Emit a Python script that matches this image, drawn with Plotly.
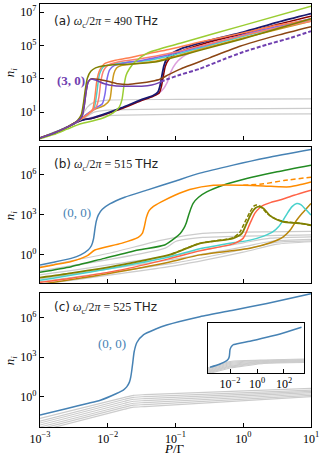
import plotly.graph_objects as go

# ---------------- data (log10 P/Gamma, log10 n_i) ----------------

# panel (a): omega_c/2pi = 490 THz
a_purple_lx = [-3, -2.8, -2.6, -2.45, -2.38, -2.35, -2.32, -2.29, -2.25, -2.18, -2.05, -1.9, -1.7, -1.5, -1.35, -1.25, -1.18]
a_purple_ly = [-0.55, -0.27, 0.1, 0.45, 0.75, 1.3, 2.2, 2.8, 2.98, 2.92, 2.7, 2.58, 2.55, 2.55, 2.62, 2.75, 2.9]
a_purple_dash_lx = [-1.22, -1.1, -0.93, -0.64, -0.3, 0, 0.35, 0.7, 1.0]
a_purple_dash_ly = [2.82, 3.0, 3.24, 3.6, 4.15, 4.6, 5.05, 5.45, 5.85]
a_brown_lx = [-3, -2.8, -2.6, -2.45, -2.38, -2.35, -2.32, -2.29, -2.24, -2.15, -2.0, -1.85, -1.7, -1.52, -1.35, -1.23, -1.1, -0.93, -0.5, -0.05, 0.5, 1.0]
a_brown_ly = [-0.55, -0.27, 0.1, 0.45, 0.75, 1.3, 2.2, 2.8, 3.0, 2.97, 2.85, 2.7, 2.66, 2.74, 2.85, 2.97, 3.25, 3.58, 4.25, 4.95, 5.6, 6.12]
a_olive_lx = [-3, -2.8, -2.6, -2.45, -2.39, -2.36, -2.33, -2.3, -2.25, -2.18, -2.05, -1.85, -1.6, -1.3, -1.1, -0.64, 0, 0.5, 1.0]
a_olive_ly = [-0.55, -0.27, 0.1, 0.48, 0.85, 1.5, 2.4, 3.05, 3.45, 3.65, 3.78, 3.85, 3.9, 4.0, 4.2, 4.7, 5.4, 6.0, 6.6]
a_coral_lx = [-3, -2.8, -2.6, -2.45, -2.35, -2.27, -2.22, -2.19, -2.16, -2.12, -2.05, -1.9, -1.7, -1.41, -1.1, -0.64, 0, 0.5, 1.0]
a_coral_ly = [-0.55, -0.27, 0.1, 0.45, 0.7, 0.95, 1.2, 1.9, 2.9, 3.5, 3.9, 4.1, 4.24, 4.5, 4.75, 5.2, 5.75, 6.2, 6.55]
a_salmon_lx = [-3, -2.8, -2.6, -2.45, -2.35, -2.25, -2.17, -2.13, -2.1, -2.06, -2.0, -1.85, -1.6, -1.3, -1.0, -0.5, 0, 0.5, 1.0]
a_salmon_ly = [-0.55, -0.27, 0.1, 0.45, 0.7, 1.0, 1.3, 1.9, 2.9, 3.5, 3.8, 4.0, 4.15, 4.35, 4.6, 5.1, 5.6, 6.05, 6.45]
a_turq_lx = [-3, -2.6, -2.4, -2.28, -2.2, -2.16, -2.12, -2.05, -1.8, -1.4, -1.0, -0.5, 0, 0.5, 1.0]
a_turq_ly = [-0.55, 0.1, 0.55, 0.9, 1.25, 2.2, 3.3, 3.75, 3.95, 4.1, 4.45, 5.0, 5.55, 6.05, 6.5]
a_slate_lx = [-3, -2.8, -2.6, -2.45, -2.35, -2.2, -2.08, -2.04, -2.01, -1.97, -1.9, -1.75, -1.5, -1.2, -0.8, -0.3, 0.3, 1.0]
a_slate_ly = [-0.55, -0.27, 0.1, 0.45, 0.75, 1.2, 1.5, 2.1, 3.0, 3.55, 3.8, 3.95, 4.1, 4.35, 4.75, 5.3, 5.95, 6.6]
a_gold_lx = [-3, -2.8, -2.6, -2.45, -2.35, -2.2, -2.05, -1.97, -1.94, -1.91, -1.87, -1.8, -1.6, -1.3, -1.0, -0.5, 0, 0.5, 1.0]
a_gold_ly = [-0.55, -0.27, 0.1, 0.45, 0.75, 1.15, 1.4, 1.75, 2.6, 3.3, 3.65, 3.8, 3.9, 4.05, 4.35, 4.9, 5.45, 5.95, 6.45]
a_ygreen_lx = [-3, -2.8, -2.6, -2.4, -2.2, -2.05, -1.92, -1.83, -1.79, -1.76, -1.73, -1.68, -1.6, -1.41, -0.93, 0, 1.0]
a_ygreen_ly = [-0.6, -0.35, -0.02, 0.3, 0.5, 0.68, 0.95, 1.3, 1.75, 2.6, 3.2, 3.6, 4.0, 4.55, 5.13, 6.2, 7.35]
a_navy_lx = [-3, -2.8, -2.6, -2.45, -2.35, -2.24, -2.0, -1.8, -1.52, -1.33, -1.26, -1.23, -1.2, -1.17, -1.13, -1.08, -0.93, -0.5, 0, 0.5, 1.0]
a_navy_ly = [-0.55, -0.27, 0.1, 0.42, 0.55, 0.63, 0.95, 1.25, 1.72, 2.0, 2.2, 2.55, 3.2, 3.8, 4.2, 4.45, 4.78, 5.3, 5.8, 6.38, 6.9]
a_dred_lx = [-3, -2.8, -2.6, -2.45, -2.35, -2.24, -2.0, -1.8, -1.52, -1.33, -1.24, -1.21, -1.18, -1.15, -1.1, -1.0, -0.5, 0, 0.5, 1.0]
a_dred_ly = [-0.55, -0.27, 0.1, 0.42, 0.55, 0.62, 0.92, 1.2, 1.66, 1.95, 2.15, 2.5, 3.15, 3.75, 4.15, 4.5, 5.2, 5.7, 6.25, 6.75]
a_plum_lx = [-3, -2.6, -2.35, -2.0, -1.52, -1.33, -1.2, -1.12, -1.07, -1.0, -0.9, -0.7, -0.3, 0.2, 0.6, 1.0]
a_plum_ly = [-0.55, 0.1, 0.55, 0.92, 1.68, 1.98, 2.3, 2.8, 3.4, 3.9, 4.3, 4.7, 5.25, 5.8, 6.15, 6.5]
a_gray_lx = [[-3, -2.8, -2.6, -2.45, -2.38, -2.3, -2.2, -2.0, -1.0, 1.0],
             [-3, -2.6, -2.4, -2.3, -2.2, -2.0, -1.0, 1.0],
             [-3, -2.6, -2.4, -2.3, -2.1, -1.8, -1.0, 1.0]]
a_gray_ly = [[-0.55, -0.27, 0.1, 0.45, 0.8, 1.3, 1.6, 1.72, 1.76, 1.8],
             [-0.55, 0.1, 0.5, 0.75, 1.0, 1.12, 1.18, 1.22],
             [-0.55, 0.1, 0.48, 0.6, 0.75, 0.82, 0.87, 0.9]]

# panel (b): omega_c/2pi = 515 THz
b_blue_lx = [-3, -2.8, -2.54, -2.4, -2.29, -2.24, -2.21, -2.19, -2.17, -2.14, -2.08, -1.97, -1.75, -1.41, -1.01, -0.64, -0.15, 0.35, 1.0]
b_blue_ly = [-0.75, -0.55, -0.26, 0.0, 0.36, 0.7, 1.2, 1.9, 2.5, 2.97, 3.4, 3.8, 4.3, 4.85, 5.5, 6.1, 6.7, 7.25, 7.86]
b_orange_lx = [-3, -2.8, -2.54, -2.3, -2.19, -1.8, -1.55, -1.49, -1.46, -1.43, -1.39, -1.33, -1.21, -1.01, -0.79, -0.44, 0, 0.3, 0.54, 0.69, 0.85, 1.0]
b_orange_ly = [-0.95, -0.75, -0.5, -0.05, 0.36, 0.86, 1.31, 1.6, 2.1, 2.8, 3.3, 3.6, 3.95, 4.45, 4.88, 5.2, 5.2, 5.15, 5.08, 5.08, 5.25, 5.45]
b_orange_dash_lx = [0.0, 0.3, 0.6, 1.0]
b_orange_dash_ly = [5.2, 5.3, 5.55, 5.8]
b_green_lx = [-3, -2.54, -2.05, -1.55, -1.16, -1.01, -0.93, -0.88, -0.84, -0.81, -0.77, -0.74, -0.66, -0.54, -0.3, 0.05, 0.5, 1.0]
b_green_ly = [-1.3, -0.88, -0.26, 0.36, 0.74, 1.25, 1.6, 1.95, 2.4, 2.9, 3.5, 3.85, 4.3, 4.7, 5.2, 5.7, 6.2, 6.69]
b_olive_lx = [-3, -2.54, -1.8, -1.06, -0.64, -0.15, -0.02, 0.05, 0.12, 0.18, 0.23, 0.3, 0.39, 0.5, 0.59, 0.84, 1.0]
b_olive_ly = [-1.7, -1.37, -0.75, 0.05, 0.86, 1.23, 1.6, 2.35, 3.1, 3.5, 3.6, 3.47, 2.95, 2.62, 2.47, 2.35, 2.22]
b_olive_dash_lx = [-1.06, -0.64, -0.15, -0.05, 0.02, 0.1, 0.16, 0.2, 0.26, 0.35, 0.45, 0.6, 0.84, 1.0]
b_olive_dash_ly = [0.05, 0.86, 1.28, 1.7, 2.4, 3.2, 3.65, 3.72, 3.6, 3.1, 2.75, 2.5, 2.35, 2.2]
b_tomato_lx = [-3, -2.54, -1.8, -1.1, -0.64, -0.15, 0.0, 0.1, 0.17, 0.24, 0.3, 0.4, 0.54, 0.75, 1.0]
b_tomato_ly = [-2.05, -1.74, -1.12, -0.3, 0.3, 0.82, 1.25, 2.35, 3.1, 3.5, 3.71, 3.9, 4.09, 4.45, 4.83]
b_turq_lx = [-3, -2.0, -1.13, -0.64, -0.15, 0.1, 0.3, 0.44, 0.52, 0.59, 0.65, 0.72, 0.79, 0.85, 0.92, 1.0]
b_turq_ly = [-1.9, -1.05, -0.2, 0.45, 0.9, 1.1, 1.4, 1.73, 2.1, 2.6, 3.1, 3.6, 3.84, 3.75, 3.4, 2.97]
b_gold_lx = [-3, -2.0, -1.1, -0.64, 0.1, 0.4, 0.59, 0.7, 0.79, 0.87, 0.94, 1.0]
b_gold_ly = [-2.2, -1.4, -0.55, 0.0, 0.49, 0.9, 1.35, 1.9, 2.6, 3.1, 3.5, 3.84]
b_gray_lx = [[-3, -2.0, -1.2, -0.6, 1.0],
             [-3, -1.15, -1.0, -0.6, 1.0],
             [-3, -1.0, 0.0, 0.4, 1.0],
             [-3, -1.0, 0.0, 0.4, 1.0],
             [-3, -1.0, 0.0, 0.5, 1.0],
             [-3, -1.0, 0.0, 0.5, 1.0]]
b_gray_ly = [[-0.9, 0.1, 1.1, 1.6, 1.75],
             [-1.2, 0.5, 1.0, 1.3, 1.5],
             [-1.5, 0.0, 0.9, 1.25, 1.35],
             [-1.8, -0.3, 0.6, 1.0, 1.15],
             [-2.0, -0.6, 0.4, 0.95, 1.05],
             [-2.2, -0.8, 0.2, 0.8, 0.98]]

# panel (c): omega_c/2pi = 525 THz
c_blue_lx = [-3, -2.6, -2.3, -2.11, -1.87, -1.77, -1.72, -1.68, -1.66, -1.645, -1.63, -1.61, -1.57, -1.47, -1.3, -1.13, -0.64, -0.15, 0.35, 1.0]
c_blue_ly = [-1.4, -0.9, -0.52, -0.27, 0.24, 0.5, 0.74, 1.1, 1.5, 2.0, 2.6, 3.4, 4.1, 4.7, 5.1, 5.42, 6.05, 6.55, 7.06, 7.8]
c_gray_lx = [-3, -1.75, -1.62, -1.45, 1.0]
c_gray_ly = [[-1.65, -0.05, 0.1, 0.15, 0.62],
             [-1.85, -0.2, -0.05, 0.0, 0.5],
             [-2.0, -0.35, -0.2, -0.15, 0.4],
             [-2.15, -0.5, -0.35, -0.3, 0.3],
             [-2.3, -0.65, -0.5, -0.45, 0.2],
             [-2.45, -0.8, -0.65, -0.6, 0.1],
             [-2.6, -0.95, -0.8, -0.75, 0.0]]

# inset of (c)
i_blue_lx = [-3.48, -2.74, -2.24, -2.12, -2.05, -2.0, -1.94, -1.88, -1.75, -1.2, -0.52, 0.72, 1.95, 3.3]
i_blue_ly = [-1.36, -0.7, -0.04, 0.3, 0.84, 2.16, 2.6, 2.84, 3.16, 3.5, 3.83, 4.63, 5.5, 6.63]
i_gray_lx = [-3.63, -2.2, -2.0, -1.7, 0.5, 3.48]
i_gray_ly = [[-1.5, -0.35, -0.2, -0.1, 0.1, 0.3],
             [-1.7, -0.55, -0.4, -0.3, 0.0, 0.2],
             [-1.9, -0.75, -0.6, -0.5, -0.1, 0.1],
             [-2.05, -0.95, -0.8, -0.7, -0.2, 0.0],
             [-2.2, -1.15, -1.0, -0.9, -0.3, -0.1],
             [-2.35, -1.3, -1.15, -1.05, -0.4, -0.2],
             [-2.5, -1.45, -1.3, -1.2, -0.5, -0.3],
             [-2.65, -1.65, -1.5, -1.4, -0.6, -0.4]]

GRAY = "#cccccc"
SERIF = "Liberation Serif"
SANS = "DejaVu Sans"

fig = go.Figure()


def L(v):
    return [10 ** t for t in v]


def add(lx, ly, color, xa, ya, width=1.5, dash=None, shape="spline"):
    fig.add_trace(go.Scatter(
        x=L(lx), y=L(ly), mode="lines", xaxis=xa, yaxis=ya,
        line=dict(color=color, width=width, dash=dash, shape=shape, smoothing=0.6),
        showlegend=False, hoverinfo="skip"))


# panel (a)
for lx, ly in zip(a_gray_lx, a_gray_ly):
    add(lx, ly, GRAY, "x", "y", 1.2)
add(a_plum_lx, a_plum_ly, "#dda0dd", "x", "y")
add(a_dred_lx, a_dred_ly, "#8b0000", "x", "y")
add(a_navy_lx, a_navy_ly, "#191970", "x", "y", 1.8)
add(a_turq_lx, a_turq_ly, "#48d1cc", "x", "y")
add(a_gold_lx, a_gold_ly, "#cc9a1e", "x", "y")
add(a_slate_lx, a_slate_ly, "#7b68ee", "x", "y")
add(a_salmon_lx, a_salmon_ly, "#fa8072", "x", "y")
add(a_coral_lx, a_coral_ly, "#ff7f50", "x", "y")
add(a_ygreen_lx, a_ygreen_ly, "#9acd32", "x", "y")
add(a_brown_lx, a_brown_ly, "#8b4513", "x", "y")
add(a_olive_lx, a_olive_ly, "#808000", "x", "y")
add(a_purple_lx, a_purple_ly, "#7040b0", "x", "y")
add(a_purple_dash_lx, a_purple_dash_ly, "#7040b0", "x", "y", 2, "4px,2px")

# panel (b)
for lx, ly in zip(b_gray_lx, b_gray_ly):
    add(lx, ly, GRAY, "x2", "y2", 1.2)
add(b_gold_lx, b_gold_ly, "#b8860b", "x2", "y2")
add(b_turq_lx, b_turq_ly, "#48d1cc", "x2", "y2")
add(b_tomato_lx, b_tomato_ly, "#ff6347", "x2", "y2")
add(b_olive_lx, b_olive_ly, "#808000", "x2", "y2", 1.8)
add(b_olive_dash_lx, b_olive_dash_ly, "#808000", "x2", "y2", 1.5, "4px,2px")
add(b_green_lx, b_green_ly, "#228b22", "x2", "y2")
add(b_orange_lx, b_orange_ly, "#ff8c00", "x2", "y2")
add(b_orange_dash_lx, b_orange_dash_ly, "#ff8c00", "x2", "y2", 1.5, "5px,3px")
add(b_blue_lx, b_blue_ly, "#4682b4", "x2", "y2")

# panel (c)
for ly in c_gray_ly:
    add(c_gray_lx, ly, GRAY, "x3", "y3", 1.2)
add(c_blue_lx, c_blue_ly, "#4682b4", "x3", "y3")

# inset
for ly in i_gray_ly:
    add(i_gray_lx, ly, GRAY, "x4", "y4", 1.2)
add(i_blue_lx, i_blue_ly, "#4682b4", "x4", "y4")


def sup(n):
    return "10<sup>%s</sup>" % (str(n).replace("-", "\u2212"))


axis = dict(type="log", showline=True, linecolor="black", linewidth=1.2, mirror=True,
            ticks="inside", ticklen=4, tickwidth=1, tickcolor="black", automargin=False,
            showgrid=False, zeroline=False, tickfont=dict(family=SERIF, size=12, color="black"))

xt = [-3, -2, -1, 0, 1]
xtv = L(xt)
dom_a, dom_b, dom_c = [0.6785, 1.0], [0.3404, 0.6619], [0.0, 0.3168]

fig.update_layout(
    template="none",
    width=324, height=460, autosize=False,
    margin=dict(l=40, r=13, t=4, b=33),
    font=dict(family=SERIF, size=12, color="black"),
    paper_bgcolor="white", plot_bgcolor="white",
    xaxis=dict(axis, range=[-3, 1], domain=[0, 1], anchor="y", tickvals=xtv, showticklabels=False),
    yaxis=dict(axis, range=[-0.67, 7.48], domain=dom_a, anchor="x",
               tickvals=L([1, 3, 5, 7]), ticktext=[sup(k) for k in [1, 3, 5, 7]]),
    xaxis2=dict(axis, range=[-3, 1], domain=[0, 1], anchor="y2", tickvals=xtv, showticklabels=False),
    yaxis2=dict(axis, range=[-2.1, 8.05], domain=dom_b, anchor="x2",
                tickvals=L([0, 3, 6]), ticktext=[sup(k) for k in [0, 3, 6]]),
    xaxis3=dict(axis, range=[-3, 1], domain=[0, 1], anchor="y3", tickvals=xtv,
                ticktext=[sup(k) for k in xt]),
    yaxis3=dict(axis, range=[-2.3, 7.85], domain=dom_c, anchor="x3",
                tickvals=L([0, 3, 6]), ticktext=[sup(k) for k in [0, 3, 6]]),
    xaxis4=dict(axis, range=[-3.63, 3.48], domain=[0.62, 0.974], anchor="y4",
                tickvals=L([-2, 0, 2]), ticktext=[sup(k) for k in [-2, 0, 2]]),
    yaxis4=dict(axis, range=[-2.5, 7.5], domain=[0.1277, 0.2459], anchor="x4",
                ticks="", showticklabels=False),
)


def panel_label(letter, freq, y):
    txt = ("<span style='font-family:%s'>(%s)</span> <i>ω</i><sub>c</sub>/2<i>π</i> = %s "
           "<span style='font-family:%s'>THz</span>") % (SANS, letter, freq, SANS)
    fig.add_annotation(text=txt, xref="paper", yref="paper", x=0.045, y=y, xanchor="left",
                       yanchor="middle", showarrow=False, font=dict(family=SERIF, size=12, color="#222"))


panel_label("a", "490", 0.957)
panel_label("b", "515", 0.619)
panel_label("c", "525", 0.2806)

fig.add_annotation(text="<b>(3, 0)</b>", xref="x", yref="y", x=-2.54, y=2.88, showarrow=False,
                   font=dict(family=SERIF, size=13, color="#7040b0"))
fig.add_annotation(text="(0, 0)", xref="x2", yref="y2", x=-2.45, y=3.19, showarrow=False,
                   font=dict(family=SERIF, size=13, color="#4682b4"))
fig.add_annotation(text="(0, 0)", xref="x3", yref="y3", x=-1.94, y=4.05, showarrow=False,
                   font=dict(family=SERIF, size=13, color="#4682b4"))

for yc in [0.839, 0.501, 0.158]:
    fig.add_annotation(text="<i>n<sub>i</sub></i>", xref="paper", yref="paper", x=-0.11, y=yc,
                       xanchor="center", yanchor="middle",
                       textangle=-90, showarrow=False, font=dict(family=SERIF, size=13, color="black"))

fig.add_annotation(text="<i>P</i>/Γ", xref="paper", yref="paper", x=0.498, y=-0.052,
                   xanchor="center", yanchor="middle", showarrow=False,
                   font=dict(family=SERIF, size=13, color="black"))

# the page's default body margin would shift the 324x460 figure; remove it
fig.write_html("out.html", config={"displayModeBar": False},
               post_script="document.body.style.margin='0';")
